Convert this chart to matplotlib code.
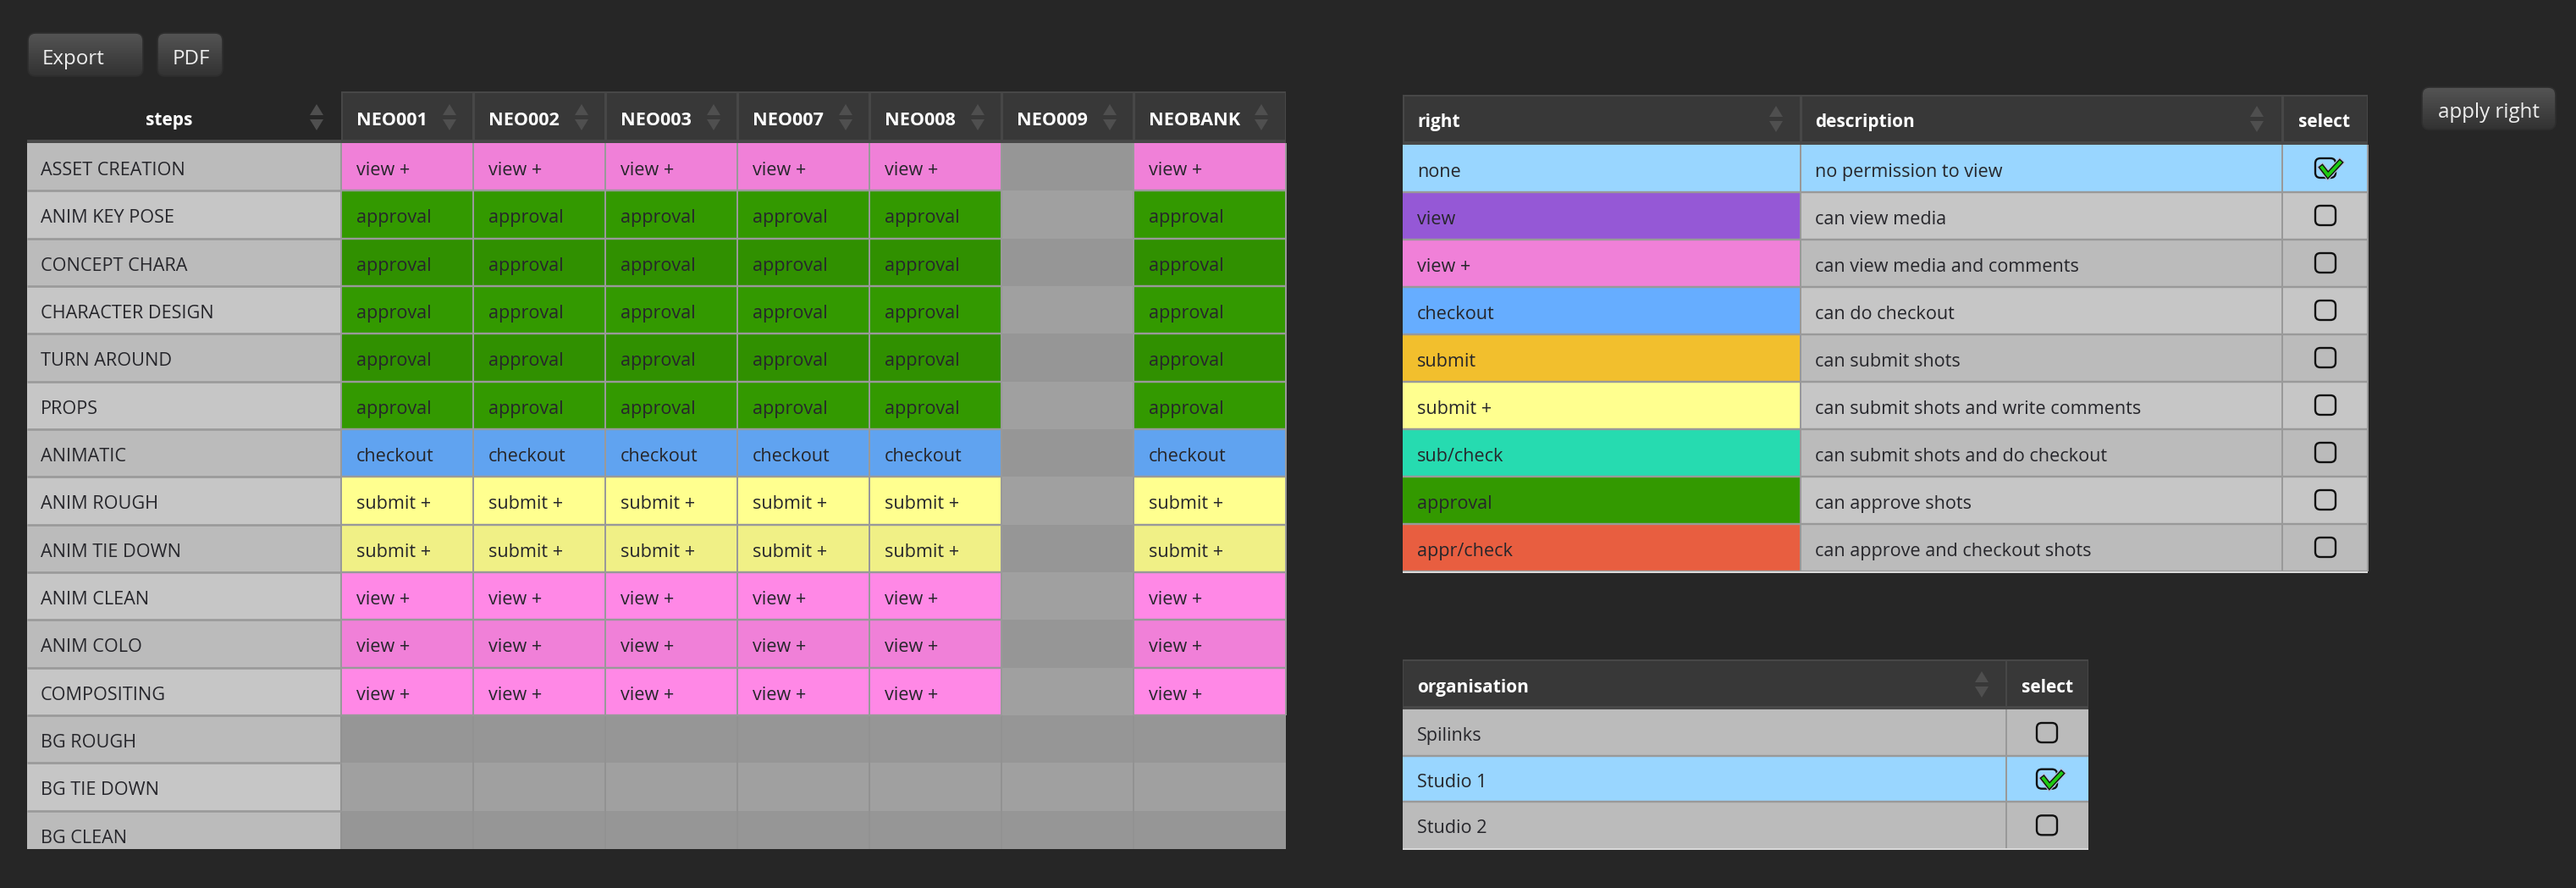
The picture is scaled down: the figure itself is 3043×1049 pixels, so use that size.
import matplotlib
matplotlib.use("Agg")
from matplotlib import pyplot as plt
from matplotlib.patches import Rectangle, FancyBboxPatch, Polygon
from matplotlib.lines import Line2D
import matplotlib.patheffects as pe
import numpy as np

plt.rcParams['font.family'] = ['Open Sans', 'DejaVu Sans']

####### data #######
projects = ["NEO001", "NEO002", "NEO003", "NEO007", "NEO008", "NEO009", "NEOBANK"]
empty_projects = ["NEO009"]
steps = ["ASSET CREATION", "ANIM KEY POSE", "CONCEPT CHARA", "CHARACTER DESIGN", "TURN AROUND",
         "PROPS", "ANIMATIC", "ANIM ROUGH", "ANIM TIE DOWN", "ANIM CLEAN", "ANIM COLO",
         "COMPOSITING", "BG ROUGH", "BG TIE DOWN", "BG CLEAN"]
step_rights = ["view +", "approval", "approval", "approval", "approval", "approval", "checkout",
               "submit +", "submit +", "view +", "view +", "view +", "", "", ""]

rights = ["none", "view", "view +", "checkout", "submit", "submit +", "sub/check", "approval", "appr/check"]
descriptions = ["no permission to view", "can view media", "can view media and comments",
                "can do checkout", "can submit shots", "can submit shots and write comments",
                "can submit shots and do checkout", "can approve shots",
                "can approve and checkout shots"]
right_colors = ["#99D6FF", "#9558D6", "#FF88E6", "#66ADFF", "#F2BF2D", "#FFFF8F", "#26DBB0", "#339900", "#E85E40"]
selected_right = "none"

organisations = ["Spilinks", "Studio 1", "Studio 2"]
selected_org = "Studio 1"

####### layout and colours #######
W, H = 3043, 1049
BG = "#262626"
HEAD = "#383838"
HEAD_LINE = "#474747"
ARROW = "#4F4F4F"
GRID = "#999999"
TXT = "#26262B"
FS = 15.6
FS_BTN = 17.4
color_of = dict(zip(rights, right_colors))


def shade(hexcol, row):
    # every other row of the tables is a bit darker
    rgb = np.array(matplotlib.colors.to_rgb(hexcol))
    return rgb * 0.94 if row % 2 == 0 else rgb


fig = plt.figure(figsize=(W / 100, H / 100), dpi=100, facecolor=BG)
ax = fig.add_axes([0, 0, 1, 1])
ax.set_xlim(0, W)
ax.set_ylim(H, 0)
ax.axis("off")


def box(x0, y0, x1, y1, col, z=1):
    ax.add_patch(Rectangle((x0, y0), x1 - x0, y1 - y0, fc=col, ec="none", zorder=z))


def line(x0, y0, x1, y1, col=GRID, lw=2.0, z=3):
    ax.add_line(Line2D([x0, x1], [y0, y1], color=col, lw=lw * 0.72, zorder=z, solid_capstyle="butt"))


def sort_arrows(xc, top):
    ax.add_patch(Polygon([(xc - 8, top + 13), (xc + 8, top + 13), (xc, top)], fc=ARROW, ec="none", zorder=4))
    ax.add_patch(Polygon([(xc - 8, top + 18), (xc + 8, top + 18), (xc, top + 31)], fc=ARROW, ec="none", zorder=4))


def button(x0, y0, x1, y1):
    grad = np.linspace(0, 1, 64).reshape(-1, 1)
    cmap = matplotlib.colors.LinearSegmentedColormap.from_list("b", ["#545454", "#323232"])
    im = ax.imshow(grad, extent=(x0, x1, y1, y0), cmap=cmap, aspect="auto", zorder=2)
    patch = FancyBboxPatch((x0 + 5, y0 + 5), x1 - x0 - 10, y1 - y0 - 10, boxstyle="round,pad=5,rounding_size=9",
                           fc="none", ec="#2E2E2E", lw=1.2, zorder=3)
    ax.add_patch(patch)
    im.set_clip_path(patch)
    ax.set_xlim(0, W)
    ax.set_ylim(H, 0)


def checkbox(xc, top, checked):
    ax.add_patch(FancyBboxPatch((xc - 7, top + 21), 14, 13, boxstyle="round,pad=5,rounding_size=6",
                                fc="none", ec="#101010", lw=1.7, zorder=5))
    if checked:
        xs = [xc - 4, xc + 3, xc + 17]
        ys = [top + 27, top + 36, top + 21]
        halo = [pe.Stroke(linewidth=6.5, foreground="#B4BEDC"), pe.Stroke(linewidth=4.8, foreground="#101010"), pe.Normal()]
        ax.add_line(Line2D(xs, ys, color="#1FCB12", lw=2.8, zorder=6, path_effects=halo, solid_joinstyle="miter"))


####### buttons #######
button(33, 39, 169, 90)
ax.text(50, 76, "Export", color="#EDEDED", fontsize=FS_BTN, zorder=5)
button(186, 39, 263, 90)
ax.text(204, 76, "PDF", color="#EDEDED", fontsize=FS_BTN, zorder=5)
button(2861, 103, 3019, 153)
ax.text(2940, 139, "apply right", color="#EDEDED", fontsize=FS_BTN, ha="center", zorder=5)

####### main table #######
col_x = [32, 403, 559, 715, 871, 1027, 1183, 1339, 1519]
row_top = 169
row_h = 56.33
bottom = 1003

box(32, 165, 403, 169, "#4A4A4A")
box(403, 108, 1519, 169, HEAD_LINE)
ax.text(200, 148, "steps", color="white", fontsize=FS - 0.6, fontweight="bold", ha="center", zorder=5)
sort_arrows(374, 123)
for j, p in enumerate(projects):
    x0, x1 = col_x[j + 1], col_x[j + 2]
    box(x0 + 2, 110, x1 - 1, 165, HEAD, 2)
    ax.text(x0 + 18, 148, p, color="white", fontsize=FS, fontweight="bold", zorder=5)
    sort_arrows(x1 - 28 if j < 6 else x1 - 29, 123)

for i, s in enumerate(steps):
    y0 = row_top + i * row_h
    y1 = min(y0 + row_h, bottom)
    box(32, y0, 403, y1, "#C6C6C6" if i % 2 else "#BBBBBB")
    ax.text(48, y0 + 38, s, color=TXT, fontsize=FS, zorder=5, clip_on=True)
    for j, p in enumerate(projects):
        x0, x1 = col_x[j + 1], col_x[j + 2]
        r = "" if p in empty_projects else step_rights[i]
        if r:
            box(x0, y0, x1, y1, shade(color_of[r], i))
            ax.text(x0 + 18, y0 + 38, r, color=TXT, fontsize=FS, zorder=5)
            line(x0, y0, x0, y1)
            line(x1, y0, x1, y1)
        else:
            box(x0, y0, x1, y1, "#A0A0A0" if i % 2 else "#969696")
            line(x0, y0, x0, y1, "#929292", z=2)
    if i < len(steps) - 1:
        line(32, y1, 403, y1, lw=2.6)
        for j, p in enumerate(projects):
            x0, x1 = col_x[j + 1], col_x[j + 2]
            colored = step_rights[i] != "" and p not in empty_projects
            if colored:
                line(x0, y1, x1, y1, lw=2.4)

####### rights table #######
rx = [1657, 2127, 2696, 2797]
box(rx[0], 112, rx[3], 171, HEAD_LINE)
for a, b in zip(rx[:-1], rx[1:]):
    box(a + 2, 114, b - 1, 167, HEAD, 2)
ax.text(1674, 150, "right", color="white", fontsize=FS - 0.6, fontweight="bold", zorder=5)
ax.text(2144, 150, "description", color="white", fontsize=FS - 0.6, fontweight="bold", zorder=5)
ax.text(2746, 150, "select", color="white", fontsize=FS - 0.6, fontweight="bold", ha="center", zorder=5)
sort_arrows(2098, 125)
sort_arrows(2666, 125)

top = 171
rh = 56.0
for i, (r, d) in enumerate(zip(rights, descriptions)):
    y0 = top + i * rh
    y1 = y0 + rh
    picked = r == selected_right
    box(rx[0], y0, rx[1], y1, shade(color_of[r], i) if r == "view +" else color_of[r])
    rest = color_of["none"] if picked else ("#C6C6C6" if i % 2 else "#BBBBBB")
    box(rx[1], y0, rx[3], y1, rest)
    ax.text(1674, y0 + 38, r, color=TXT, fontsize=FS, zorder=5)
    ax.text(2144, y0 + 38, d, color=TXT, fontsize=FS, zorder=5)
    checkbox(2747, y0, picked)
    line(rx[0], y1, rx[3], y1, lw=2.4)
for x in rx[1:]:
    line(x, top, x, top + 9 * rh)
line(rx[0], top + 9 * rh + 1, rx[3], top + 9 * rh + 1, "#D8D8D8", lw=2, z=4)

####### organisation table #######
ox = [1657, 2370, 2467]
box(ox[0], 779, ox[2], 838, HEAD_LINE)
for a, b in zip(ox[:-1], ox[1:]):
    box(a + 1, 781, b - 1, 834, HEAD, 2)
ax.text(1674, 818, "organisation", color="white", fontsize=FS - 0.6, fontweight="bold", zorder=5)
ax.text(2419, 818, "select", color="white", fontsize=FS - 0.6, fontweight="bold", ha="center", zorder=5)
sort_arrows(2341, 793)

otop = 838
orh = 54.67
for i, o in enumerate(organisations):
    y0 = otop + i * orh
    y1 = y0 + orh
    picked = o == selected_org
    box(ox[0], y0, ox[2], y1, color_of["none"] if picked else "#BBBBBB")
    ax.text(1674, y0 + 37, o, color=TXT, fontsize=FS, zorder=5)
    checkbox(2418, y0, picked)
    if i < 2:
        line(ox[0], y1, ox[2], y1, lw=2.4)
line(2370, otop, 2370, otop + 3 * orh)
line(ox[0], 1003, ox[2], 1003, "#D8D8D8", lw=2, z=4)

fig.savefig("out.png", dpi=100, facecolor=BG)
